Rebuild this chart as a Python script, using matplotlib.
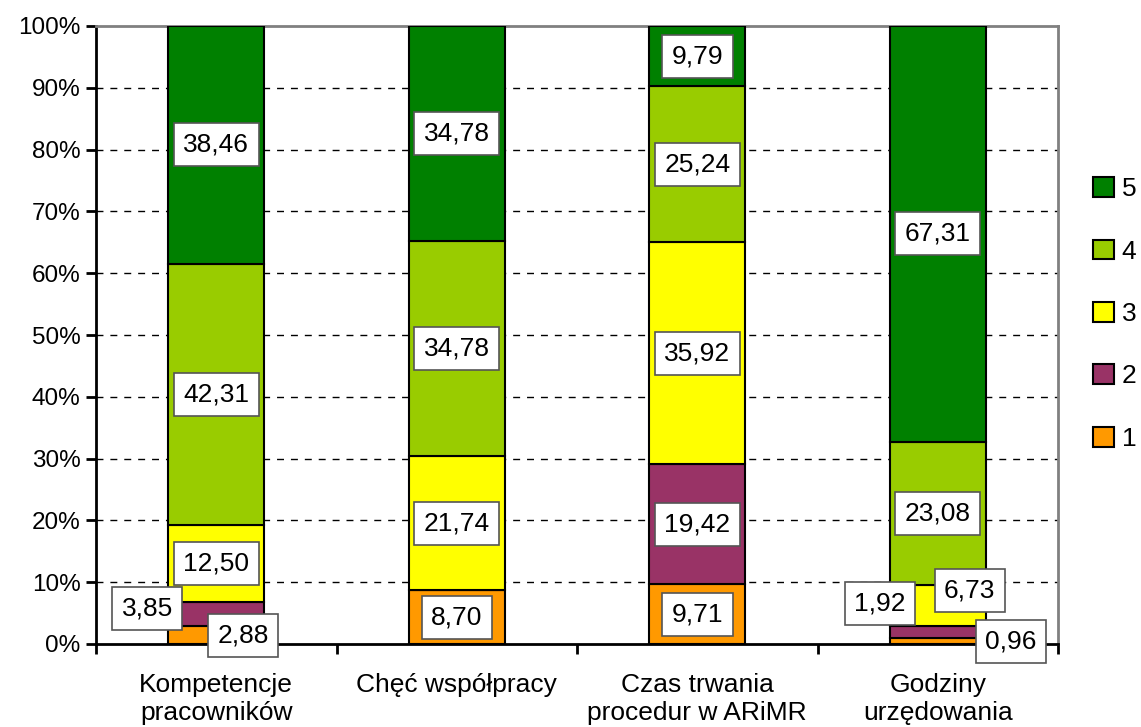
import matplotlib.pyplot as plt
import matplotlib.patches as mpatches
import numpy as np

plt.rcParams['font.family'] = ['Liberation Sans', 'DejaVu Sans']

categories = ["Kompetencje\npracowników", "Chęć współpracy",
              "Czas trwania\nprocedur w ARiMR", "Godziny\nurzędowania"]
grades = ["1", "2", "3", "4", "5"]
ocena_1 = [2.88, 8.70, 9.71, 0.96]
ocena_2 = [3.85, 0.00, 19.42, 1.92]
ocena_3 = [12.50, 21.74, 35.92, 6.73]
ocena_4 = [42.31, 34.78, 25.24, 23.08]
ocena_5 = [38.46, 34.78, 9.79, 67.31]

colors = ["#FF9900", "#993366", "#FFFF00", "#99CC00", "#008000"]
fs = 19

# przesuniecia etykiet (px) dla malych segmentow: (kategoria, ocena) -> (dx, dy)
label_shift = {
    (0, 0): (27, 0),
    (0, 1): (-69, 6),
    (3, 0): (73, 0),
    (3, 1): (-58, 29),
    (3, 2): (32, 15),
}

series = np.array([ocena_1, ocena_2, ocena_3, ocena_4, ocena_5])
# wykres 100% - normalizacja
perc = series / series.sum(axis=0) * 100

fig = plt.figure(figsize=(11.41, 7.27), dpi=100)
ax = fig.add_axes([96 / 1141, 1 - 644 / 727, (1058 - 96) / 1141, (644 - 26) / 727])

x = np.arange(len(categories))
bottom = np.zeros(len(categories))
for g in range(len(grades)):
    ax.bar(x, perc[g], 0.4, bottom=bottom, color=colors[g],
           edgecolor="black", linewidth=1.5, zorder=3)
    for c in range(len(categories)):
        if series[g][c] == 0:
            continue
        yc = bottom[c] + perc[g][c] / 2
        dx, dy = label_shift.get((c, g), (0, 0))
        ax.annotate(("%.2f" % series[g][c]).replace(".", ","), (x[c], yc),
                    xytext=(dx * 0.72, dy * 0.72), textcoords="offset points",
                    ha="center", va="center", fontsize=fs, zorder=5,
                    bbox=dict(boxstyle="square,pad=0.36", facecolor="white",
                              edgecolor="#555555", linewidth=1.2))
    bottom += perc[g]

ax.set_xlim(-0.5, len(categories) - 0.5)
ax.set_ylim(0, 100)
ax.set_yticks(np.arange(0, 101, 10))
ax.set_yticklabels(["%d%%" % v for v in range(0, 101, 10)], fontsize=17.5)
ax.set_xticks(np.arange(-0.5, len(categories), 1))
ax.set_xticklabels([])
ax.set_xticks(x, minor=True)
ax.set_xticklabels(categories, minor=True, fontsize=fs, linespacing=1.22)
ax.tick_params(axis="x", which="minor", length=0, pad=21)
ax.tick_params(axis="x", which="major", direction="out", length=7, width=2)
ax.tick_params(axis="y", direction="out", length=7, width=2, pad=4)

for v in range(10, 100, 10):
    ax.axhline(v, color="black", linestyle=(0, (5, 5)), linewidth=1, zorder=1)

ax.spines["left"].set_linewidth(2)
ax.spines["bottom"].set_linewidth(2)
ax.spines["top"].set_color("grey")
ax.spines["right"].set_color("grey")
ax.spines["top"].set_linewidth(2)
ax.spines["right"].set_linewidth(2)

handles = [mpatches.Patch(facecolor=colors[g], edgecolor="black", linewidth=1.5,
                          label=grades[g]) for g in range(len(grades))][::-1]
fig.legend(handles=handles, loc="center left", bbox_to_anchor=(1093 / 1141, 1 - 314 / 727),
           frameon=False, fontsize=fs, handlelength=0.78, handleheight=0.78,
           handletextpad=0.3, labelspacing=1.45, borderpad=0, borderaxespad=0)

fig.savefig("out.png", dpi=100)
